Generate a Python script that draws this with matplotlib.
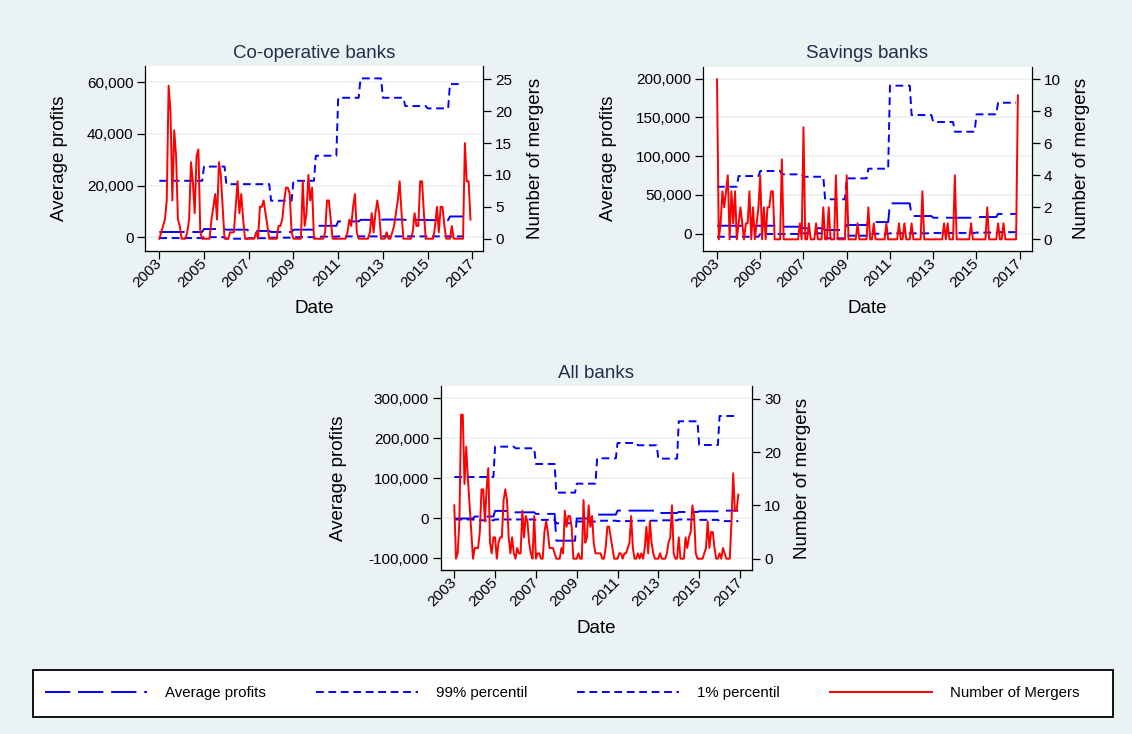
import numpy as np
import pandas as pd
import matplotlib
matplotlib.use("Agg")
import matplotlib.pyplot as plt
from matplotlib.patches import Rectangle
from matplotlib.ticker import FuncFormatter

plt.rcParams['font.family'] = ['Liberation Sans', 'DejaVu Sans']

# ---------------- data ----------------
years = list(range(2003, 2017))          # annual values of profit statistics
xtick_years = [2003, 2005, 2007, 2009, 2011, 2013, 2015, 2017]

# Co-operative banks
coop_avg = [2100, 2100, 3250, 3000, 2500, 2100, 3000, 4500, 6200, 6800, 6900, 6800, 6700, 8100]
coop_p99 = [21900, 21900, 27400, 20600, 20600, 14200, 21900, 31600, 54000, 61500, 54000, 50800, 49900, 59300]
coop_p1 = [-250, -250, 100, -500, -300, -100, 100, 300, 400, 400, 400, 400, 400, 400]
coop_mergers = [0, 1, 2, 3, 6, 24, 20, 6, 17, 13, 3, 2,
                0, 0, 0, 1, 3, 12, 9, 4, 13, 14, 1, 0,
                0, 0, 0, 0, 3, 5, 7, 3, 12, 10, 5, 0,
                0, 0, 1, 1, 1, 5, 9, 4, 7, 3, 0, 0,
                0, 0, 0, 0, 1, 0, 5, 5, 6, 4, 2, 0,
                0, 0, 0, 0, 2, 2, 3, 6, 8, 8, 7, 1,
                0, 0, 0, 0, 0, 9, 2, 4, 10, 6, 8, 0,
                0, 0, 0, 0, 0, 1, 6, 6, 3, 0, 0, 0,
                0, 0, 0, 0, 0, 1, 3, 2, 5, 7, 1, 0,
                0, 0, 0, 0, 0, 1, 4, 1, 4, 6, 4, 0,
                0, 0, 1, 0, 0, 1, 2, 4, 6, 9, 4, 0,
                0, 0, 0, 0, 1, 4, 2, 2, 9, 9, 4, 0,
                0, 0, 0, 0, 2, 5, 1, 5, 5, 2, 0, 0,
                0, 2, 0, 0, 0, 0, 0, 0, 15, 9, 9, 3]

# Savings banks
sav_avg = [10300, 10300, 10300, 9000, 7000, 4800, 11200, 15000, 39200, 22800, 20600, 20600, 21500, 25500]
sav_p99 = [60600, 74400, 80900, 76600, 73500, 44400, 71400, 83900, 191000, 153100, 144100, 131600, 154000, 169000]
sav_p1 = [-3900, -3900, -400, -400, 500, -5900, -2600, 0, 500, 500, 1000, 1000, 1500, 2000]
sav_mergers = [10, 0, 1, 3, 2, 3, 4, 0, 3, 1, 3, 0,
               1, 2, 1, 0, 1, 1, 3, 0, 2, 0, 1, 2,
               4, 0, 2, 0, 2, 2, 3, 3, 0, 0, 0, 0,
               5, 0, 0, 0, 0, 0, 0, 0, 0, 0, 1, 0,
               7, 0, 0, 1, 0, 0, 0, 1, 0, 0, 0, 2,
               0, 0, 2, 0, 0, 0, 4, 0, 0, 0, 0, 0,
               4, 0, 0, 0, 0, 0, 1, 0, 0, 0, 0, 0,
               2, 0, 0, 1, 0, 0, 0, 0, 0, 0, 1, 0,
               0, 0, 0, 0, 0, 1, 0, 0, 1, 0, 0, 0,
               1, 0, 0, 0, 0, 0, 3, 0, 0, 0, 0, 0,
               0, 0, 0, 0, 0, 0, 1, 0, 1, 0, 0, 0,
               4, 0, 0, 0, 0, 0, 0, 0, 0, 1, 0, 0,
               0, 0, 0, 0, 0, 0, 2, 0, 0, 0, 0, 0,
               1, 0, 0, 1, 0, 0, 0, 0, 0, 0, 0, 9]

# All banks
all_avg = [-500, 4500, 18500, 15000, 11000, -56000, -500, 9200, 19200, 19200, 13300, 15800, 17500, 19200]
all_p99 = [103300, 103300, 179200, 175000, 135800, 64200, 86700, 150000, 188300, 182500, 149200, 242500, 183300, 255800]
all_p1 = [-3000, -5000, -3000, -3000, -4000, -12500, -8000, -6000, -7000, -6000, -5000, -3000, -4000, -7000]
all_mergers = [10, 0, 1, 7, 27, 27, 14, 21, 15, 10, 5, 0,
               2, 2, 2, 5, 13, 13, 7, 13, 17, 3, 1, 4,
               4, 0, 3, 4, 4, 11, 13, 11, 4, 1, 4, 1,
               0, 2, 1, 1, 9, 4, 8, 7, 3, 1, 0, 8,
               0, 1, 1, 0, 0, 5, 7, 5, 2, 2, 2, 1,
               0, 0, 0, 2, 1, 9, 6, 8, 8, 6, 0, 0,
               0, 1, 0, 0, 11, 3, 4, 10, 6, 8, 3, 1,
               1, 1, 1, 0, 0, 2, 6, 6, 4, 2, 0, 0,
               0, 1, 1, 0, 1, 1, 2, 3, 8, 2, 0, 0,
               1, 0, 1, 0, 2, 6, 1, 7, 3, 1, 0, 0,
               0, 1, 0, 0, 0, 1, 3, 4, 10, 1, 0, 0,
               4, 0, 0, 0, 4, 2, 4, 5, 10, 8, 1, 0,
               0, 0, 0, 1, 2, 7, 2, 5, 5, 2, 0, 0,
               1, 0, 2, 1, 0, 0, 0, 7, 16, 9, 9, 12]

legend_labels = ['Average profits', '99% percentil', '1% percentil', 'Number of Mergers']

# ---------------- helpers ----------------
months = pd.date_range('2003-01-01', periods=168, freq='MS')
t = np.asarray(months.year + (months.month - 1) / 12.0, dtype=float)


def monthly(annual, last):
    arr = np.repeat(np.asarray(annual, dtype=float), 12)
    arr[last + 1:] = np.nan
    return arr


W, H = 1132, 734
BG = '#EAF2F3'
BLUE = '#0000FF'
RED = '#FF0000'
TITLE_C = '#1E2F4D'
LONG = (13, 4)
SHORT = (4, 2.4)

fig = plt.figure(figsize=(W / 100, H / 100), dpi=100)
fig.patch.set_facecolor(BG)

fmt = FuncFormatter(lambda v, p: '{:,.0f}'.format(v))


def panel(box, title, avg, p99, p1, mergers, last, ylim_l, ylim_r, xlim,
          lticks, rticks, title_y, ylab_x, rlab_x, date_y):
    L, R, T, B = box
    ax = fig.add_axes([L / W, 1 - B / H, (R - L) / W, (B - T) / H])
    ax.set_facecolor('white')
    la, = ax.plot(t, monthly(avg, last), color=BLUE, lw=1.4, dashes=LONG)
    l99, = ax.plot(t, monthly(p99, last), color=BLUE, lw=1.4, dashes=SHORT)
    l1, = ax.plot(t, monthly(p1, last), color=BLUE, lw=1.4, dashes=SHORT)
    ax.set_xlim(*xlim)
    ax.set_ylim(*ylim_l)
    ax.set_yticks(lticks)
    ax.yaxis.set_major_formatter(fmt)
    ax.set_xticks(xtick_years)
    ax.yaxis.grid(True, color=BG, lw=1.2)
    ax.set_axisbelow(True)
    ax.spines['top'].set_visible(False)
    ax.spines['right'].set_visible(False)
    for s in ['left', 'bottom']:
        ax.spines[s].set_linewidth(0.9)
    ax.tick_params(axis='both', direction='out', length=6, width=0.9,
                   labelsize=11, pad=2.5, colors='black')
    ax.tick_params(axis='x', pad=1.5)
    for lab in ax.get_xticklabels():
        lab.set_rotation(45)
        lab.set_ha('right')
        lab.set_va('center')
        lab.set_rotation_mode('anchor')

    ax2 = ax.twinx()
    lm, = ax2.plot(t, mergers, color=RED, lw=1.4)
    ax2.set_ylim(*ylim_r)
    ax2.set_yticks(rticks)
    ax2.spines['top'].set_visible(False)
    ax2.spines['left'].set_visible(False)
    ax2.spines['right'].set_linewidth(0.9)
    ax2.tick_params(axis='y', direction='out', length=6, width=0.9,
                    labelsize=11, pad=2.5)

    cx = (L + R) / 2 / W
    cy = 1 - (T + B) / 2 / H
    fig.text(cx, 1 - title_y / H, title, ha='center', va='baseline',
             fontsize=13.5, color=TITLE_C)
    fig.text(ylab_x / W, cy, 'Average profits', rotation=90, ha='center',
             va='center', fontsize=13.5)
    fig.text(rlab_x / W, cy, 'Number of mergers', rotation=90, ha='center',
             va='center', fontsize=13.5)
    fig.text(cx, 1 - date_y / H, 'Date', ha='center', va='baseline', fontsize=13.5)
    return [la, l99, l1, lm]


handles = panel((145.3, 483.3, 66, 250.7), 'Co-operative banks',
                coop_avg, coop_p99, coop_p1, coop_mergers, 163,
                (-5134, 66290), (-1.88, 27.08), (2002.374, 2017.49),
                [0, 20000, 40000, 60000], [0, 5, 10, 15, 20, 25],
                58.5, 59.3, 536, 313.3)

panel((703.3, 1031.7, 66.7, 250.7), 'Savings banks',
      sav_avg, sav_p99, sav_p1, sav_mergers, 166,
      (-21930, 215480), (-0.71, 10.79), (2002.366, 2017.555),
      [0, 50000, 100000, 150000, 200000], [0, 2, 4, 6, 8, 10],
      58.5, 608.3, 1081.7, 313.3)

panel((440.7, 752.3, 386, 570), 'All banks',
      all_avg, all_p99, all_p1, all_mergers, 167,
      (-129250, 330750), (-2.12, 32.38), (2002.334, 2017.603),
      [-100000, 0, 100000, 200000, 300000], [0, 10, 20, 30],
      378.3, 338.3, 802.3, 633.3)

# legend box
fig.add_artist(Rectangle((33 / W, 1 - 717 / H), 1080 / W, 47 / H,
                         transform=fig.transFigure, facecolor='white',
                         edgecolor='black', lw=1.3, zorder=1))
fs = 10.8
px = fs * 100 / 72.0
leg = fig.legend(handles, legend_labels, loc='center left',
                 bbox_to_anchor=(45 / W, 1 - 693.5 / H), ncol=4, frameon=False,
                 fontsize=fs, handlelength=102 / px, handletextpad=18 / px,
                 columnspacing=50 / px, borderpad=0, borderaxespad=0)
leg.set_zorder(2)

fig.savefig('out.png', dpi=100, facecolor=BG)
